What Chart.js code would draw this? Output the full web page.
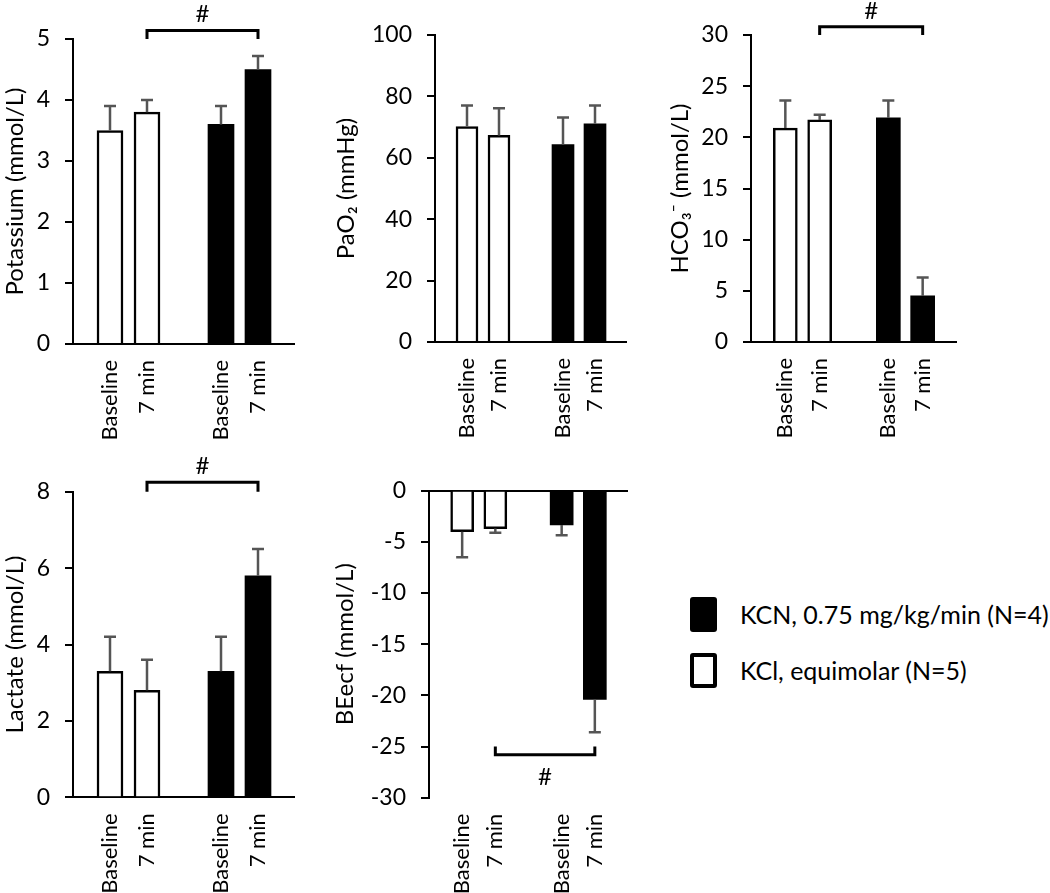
<!DOCTYPE html>
<html>
<head>
<meta charset="utf-8">
<script src="https://cdn.jsdelivr.net/npm/chart.js@4.4.1/dist/chart.umd.min.js"></script>
<style>
  body { margin: 0; background: #fff; font-family: Lato, sans-serif; }
  #page { position: relative; width: 1050px; height: 893px; overflow: hidden; }
  canvas { position: absolute; }
  .legend-row { position: absolute; left: 690px; height: 36px; display: flex; align-items: center; font-size: 25px; color: #000; white-space: nowrap; }
  .swatch { width: 27px; height: 35px; box-sizing: border-box; border-radius: 3px; margin-right: 23px; }
</style>
</head>
<body>
<div id="page">
  <canvas id="c-potassium"></canvas>
  <canvas id="c-pao2"></canvas>
  <canvas id="c-hco3"></canvas>
  <canvas id="c-lactate"></canvas>
  <canvas id="c-beecf"></canvas>
  <div class="legend-row" style="top:596px"><div class="swatch" style="background:#000"></div>KCN, 0.75 mg/kg/min (N=4)</div>
  <div class="legend-row" style="top:652px"><div class="swatch" style="border:4px solid #000;background:#fff"></div>KCl, equimolar (N=5)</div>
</div>
<script>
// ============= DATA =============
const categories = ['', 'Baseline', '7 min', '', 'Baseline', '7 min', ''];
const kclSlots = [1, 2];
const kcnSlots = [4, 5];

const potassiumKCl = [3.5, 3.8];
const potassiumKClErr = [0.4, 0.2];
const potassiumKCN = [3.6, 4.5];
const potassiumKCNErr = [0.3, 0.22];

const pao2KCl = [70.2, 67.3];
const pao2KClErr = [6.8, 8.8];
const pao2KCN = [64.3, 71.1];
const pao2KCNErr = [8.8, 5.9];

const hco3KCl = [20.9, 21.7];
const hco3KClErr = [2.7, 0.5];
const hco3KCN = [21.9, 4.5];
const hco3KCNErr = [1.7, 1.8];

const lactateKCl = [3.3, 2.8];
const lactateKClErr = [0.9, 0.8];
const lactateKCN = [3.3, 5.8];
const lactateKCNErr = [0.9, 0.7];

const beecfKCl = [-4.0, -3.7];
const beecfKClErr = [2.5, 0.4];
const beecfKCN = [-3.35, -20.4];
const beecfKCNErr = [1.0, 3.2];

Chart.defaults.font.family = 'Lato, sans-serif';
Chart.defaults.color = '#000';

// put the two values of a group into the 7 category slots
function toSlots(values, slots) {
    const out = categories.map(() => null);
    slots.forEach((s, i) => { out[s] = values[i]; });
    return out;
}

// ============= PLUGINS =============
const errorBars = {
    id: 'errorBars',
    afterDatasetsDraw(chart) {
        const ctx = chart.ctx;
        const y = chart.scales.y;
        chart.data.datasets.forEach((ds, di) => {
            chart.getDatasetMeta(di).data.forEach((bar, i) => {
                const v = ds.data[i];
                const e = ds.errors[i];
                if (v == null || e == null) return;
                const end = v < 0 ? v - e : v + e;
                const y0 = y.getPixelForValue(v);
                const y1 = y.getPixelForValue(end);
                ctx.save();
                ctx.strokeStyle = '#555';
                ctx.lineWidth = 2.5;
                ctx.beginPath();
                ctx.moveTo(bar.x, y0);
                ctx.lineTo(bar.x, y1);
                ctx.moveTo(bar.x - 6, y1);
                ctx.lineTo(bar.x + 6, y1);
                ctx.stroke();
                ctx.restore();
            });
        });
    }
};

const bracket = {
    id: 'bracket',
    afterDraw(chart, args, opts) {
        if (!opts || opts.level == null) return;
        const ctx = chart.ctx;
        const x = chart.scales.x, y = chart.scales.y;
        const x0 = x.getPixelForValue(opts.from), x1 = x.getPixelForValue(opts.to);
        const yl = y.getPixelForValue(opts.level), yt = y.getPixelForValue(opts.tip);
        ctx.save();
        ctx.strokeStyle = '#000';
        ctx.lineWidth = 3;
        ctx.lineJoin = 'miter';
        ctx.beginPath();
        ctx.moveTo(x0, yt);
        ctx.lineTo(x0, yl);
        ctx.lineTo(x1, yl);
        ctx.lineTo(x1, yt);
        ctx.stroke();
        ctx.fillStyle = '#000';
        ctx.font = '24px Lato, sans-serif';
        ctx.textAlign = 'center';
        ctx.textBaseline = 'middle';
        ctx.fillText('#', (x0 + x1) / 2, opts.below ? yl + 23 : yl - 16);
        ctx.restore();
    }
};

// ============= BUILD PANEL =============
function makePanel(p) {
    const el = document.getElementById(p.id);
    el.width = p.w;
    el.height = p.h;
    el.style.left = p.left + 'px';
    el.style.top = p.top + 'px';

    return new Chart(el, {
        type: 'bar',
        data: {
            labels: categories,
            datasets: [
                {
                    label: 'KCl, equimolar (N=5)',
                    data: toSlots(p.kcl, kclSlots),
                    errors: toSlots(p.kclErr, kclSlots),
                    backgroundColor: '#fff',
                    borderColor: '#000',
                    borderWidth: 2.5,
                    barThickness: p.bar
                },
                {
                    label: 'KCN, 0.75 mg/kg/min (N=4)',
                    data: toSlots(p.kcn, kcnSlots),
                    errors: toSlots(p.kcnErr, kcnSlots),
                    backgroundColor: '#000',
                    borderColor: '#000',
                    borderWidth: 0,
                    barThickness: p.bar
                }
            ]
        },
        options: {
            responsive: false,
            animation: false,
            devicePixelRatio: 1,
            layout: { padding: { top: p.padTop, right: 0, bottom: 0, left: 0 } },
            datasets: { bar: { grouped: false, skipNull: true } },
            plugins: {
                legend: { display: false },
                tooltip: { enabled: false },
                bracket: p.bracket
            },
            scales: {
                x: {
                    offset: false,
                    grid: { display: false, drawTicks: false },
                    border: { display: false },
                    ticks: {
                        autoSkip: false,
                        minRotation: 90,
                        maxRotation: 90,
                        padding: 16,
                        font: { size: 22 }
                    },
                    afterFit(scale) {
                        scale.height = p.xHeight;
                        scale.paddingLeft = 0;
                        scale.paddingRight = 0;
                    }
                },
                y: {
                    min: p.min,
                    max: p.max,
                    ticks: { stepSize: p.step, padding: 15, font: { size: 23 } },
                    grid: {
                        color: (c) => (c.tick && c.tick.value === 0 ? '#000' : 'rgba(0,0,0,0)'),
                        tickColor: '#000',
                        tickLength: 8,
                        lineWidth: 2
                    },
                    border: { display: true, color: '#000', width: 2 },
                    title: {
                        display: true,
                        text: p.title,
                        padding: 0,
                        font: { size: 24 }
                    },
                    afterFit(scale) {
                        scale.width = p.yWidth;
                        scale.paddingTop = 0;
                        scale.paddingBottom = 0;
                    }
                }
            }
        },
        plugins: [errorBars, bracket]
    });
}

// ============= PANELS =============
makePanel({
    id: 'c-potassium', left: 1, top: 0, w: 294, h: 454, padTop: 39, yWidth: 72, xHeight: 110, bar: 26,
    title: 'Potassium (mmol/L)', min: 0, max: 5, step: 1,
    kcl: potassiumKCl, kclErr: potassiumKClErr, kcn: potassiumKCN, kcnErr: potassiumKCNErr,
    bracket: { from: 2, to: 5, level: 5.14, tip: 5.0 }
});
makePanel({
    id: 'c-pao2', left: 332, top: 20, w: 295, h: 432, padTop: 15, yWidth: 103, xHeight: 110, bar: 22,
    title: 'PaO₂ (mmHg)', min: 0, max: 100, step: 20,
    kcl: pao2KCl, kclErr: pao2KClErr, kcn: pao2KCN, kcnErr: pao2KCNErr,
    bracket: {}
});
makePanel({
    id: 'c-hco3', left: 666, top: 0, w: 291, h: 452, padTop: 35, yWidth: 85, xHeight: 110, bar: 24,
    title: 'HCO₃⁻ (mmol/L)', min: 0, max: 30, step: 5,
    kcl: hco3KCl, kclErr: hco3KClErr, kcn: hco3KCN, kcnErr: hco3KCNErr,
    bracket: { from: 2, to: 5, level: 30.8, tip: 30 }
});
makePanel({
    id: 'c-lactate', left: 1, top: 455, w: 294, h: 438, padTop: 36.7, yWidth: 72, xHeight: 95.7, bar: 26,
    title: 'Lactate (mmol/L)', min: 0, max: 8, step: 2,
    kcl: lactateKCl, kclErr: lactateKClErr, kcn: lactateKCN, kcnErr: lactateKCNErr,
    bracket: { from: 2, to: 5, level: 8.25, tip: 8.0 }
});
makePanel({
    id: 'c-beecf', left: 331, top: 470, w: 297, h: 423, padTop: 20.7, yWidth: 98, xHeight: 95.3, bar: 23,
    title: 'BEecf (mmol/L)', min: -30, max: 0, step: 5,
    kcl: beecfKCl, kclErr: beecfKClErr, kcn: beecfKCN, kcnErr: beecfKCNErr,
    bracket: { from: 2, to: 5, level: -25.8, tip: -25, below: true }
});
</script>
</body>
</html>
